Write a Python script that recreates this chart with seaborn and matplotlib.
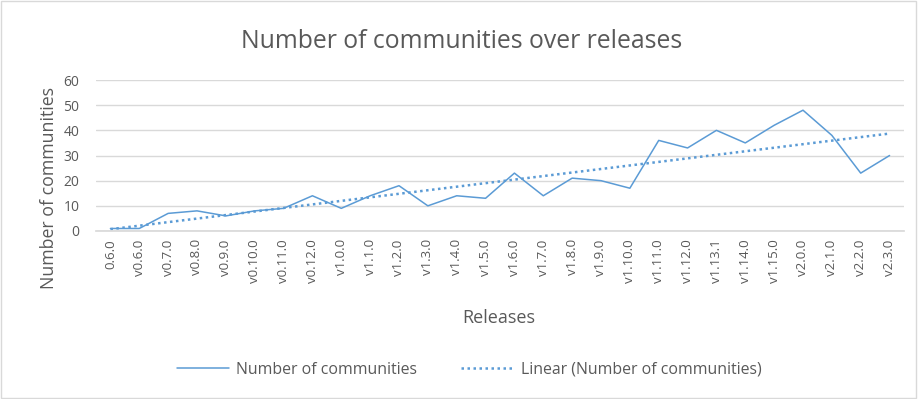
import numpy as np
import pandas as pd
import matplotlib
matplotlib.use("Agg")
import matplotlib.pyplot as plt
import seaborn as sns
from matplotlib.patches import Rectangle
from matplotlib.lines import Line2D

releases = ["0.6.0", "v0.6.0", "v0.7.0", "v0.8.0", "v0.9.0", "v0.10.0", "v0.11.0",
            "v0.12.0", "v1.0.0", "v1.1.0", "v1.2.0", "v1.3.0", "v1.4.0", "v1.5.0",
            "v1.6.0", "v1.7.0", "v1.8.0", "v1.9.0", "v1.10.0", "v1.11.0", "v1.12.0",
            "v1.13.1", "v1.14.0", "v1.15.0", "v2.0.0", "v2.1.0", "v2.2.0", "v2.3.0"]
communities = [1, 1, 7, 8, 6, 8, 9, 14, 9, 14, 18, 10, 14, 13, 23, 14, 21, 20, 17,
               36, 33, 40, 35, 42, 48, 38, 23, 30]

sns.set_theme(style="white")
plt.rcParams['font.family'] = ['Open Sans', 'DejaVu Sans']
plt.rcParams['ytick.major.pad'] = 12
plt.rcParams['ytick.major.size'] = 0
plt.rcParams['xtick.major.size'] = 0
plt.rcParams['xtick.major.pad'] = 6

df = pd.DataFrame({"release": releases, "communities": communities})
df["pos"] = np.arange(len(df))
coef = np.polyfit(df["pos"], df["communities"], 1)
df["trend"] = np.polyval(coef, df["pos"])

fig = plt.figure(figsize=(9.18, 3.99), dpi=100)
ax = fig.add_axes([96/918, 1 - 231/399, 808/918, 151/399])

blue = "#5B9BD5"
dots = (0, (1.0, 1.4))
sns.lineplot(data=df, x="pos", y="communities", ax=ax, color=blue, lw=1.1)
sns.lineplot(data=df, x="pos", y="trend", ax=ax, color=blue, lw=1.8,
             linestyle=dots)

ax.set_xlim(-0.5, len(df) - 0.5)
ax.set_ylim(0, 60)
ax.set_yticks(range(0, 61, 10))
ax.set_xticks(df["pos"])
ax.set_xticklabels(releases, rotation=90, fontsize=9.5, color="#595959")
ax.tick_params(axis="y", labelsize=10, labelcolor="#595959", pad=12, length=0)
ax.tick_params(axis="x", pad=6, length=0)
ax.grid(axis="y", color="#d9d9d9", lw=1)
ax.set_axisbelow(True)
for s in ["top", "right", "left"]:
    ax.spines[s].set_visible(False)
ax.spines["bottom"].set_color("#d9d9d9")
ax.set_xlabel("")
ax.set_ylabel("")

fig.text(462/918, 1 - 41/399, "Number of communities over releases", ha="center",
         va="center", fontsize=17.8, color="#595959")
fig.text(499/918, 1 - 318/399, "Releases", ha="center", va="center",
         fontsize=13, color="#595959")
fig.text(49/918, 1 - 188/399, "Number of communities", ha="center", va="center",
         rotation=90, fontsize=12.8, color="#595959")

handles = [Line2D([], [], color=blue, lw=1.1),
           Line2D([], [], color=blue, lw=1.8, linestyle=dots)]
fig.legend(handles, ["Number of communities", "Linear (Number of communities)"],
           loc="center", bbox_to_anchor=(469/918, 1 - 370/399), ncol=2, frameon=False,
           fontsize=11.4, labelcolor="#595959", handlelength=3.3, handletextpad=0.45,
           columnspacing=2.8)

fig.patches.append(Rectangle((0.001, 0.002), 0.997, 0.995, transform=fig.transFigure,
                             fill=False, edgecolor="#d9d9d9", lw=1))

fig.savefig("out.png", dpi=100, facecolor="white")
